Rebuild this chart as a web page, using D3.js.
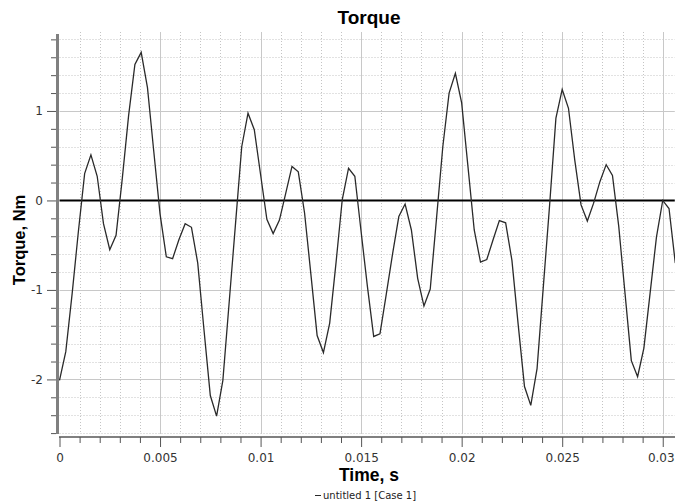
<!DOCTYPE html>
<html>
<head>
<meta charset="utf-8">
<script src="https://cdn.jsdelivr.net/npm/d3@7/dist/d3.min.js"></script>
<style>
  html, body { margin: 0; padding: 0; background: #fff; }
  svg { display: block; }
</style>
</head>
<body>
<svg id="chart" width="675" height="502"></svg>
<script>
// ---- data ----
const timeValues = [
  0, 0.0003125, 0.000625, 0.0009375, 0.00125, 0.0015625, 0.001875, 0.0021875, 0.0025, 0.0028125,
  0.003125, 0.0034375, 0.00375, 0.0040625, 0.004375, 0.0046875, 0.005, 0.0053125, 0.005625, 0.0059375,
  0.00625, 0.0065625, 0.006875, 0.0071875, 0.0075, 0.0078125, 0.008125, 0.0084375, 0.00875, 0.0090625,
  0.009375, 0.0096875, 0.01, 0.0103125, 0.010625, 0.0109375, 0.01125, 0.0115625, 0.011875, 0.0121875,
  0.0125, 0.0128125, 0.013125, 0.0134375, 0.01375, 0.0140625, 0.014375, 0.0146875, 0.015, 0.0153125,
  0.015625, 0.0159375, 0.01625, 0.0165625, 0.016875, 0.0171875, 0.0175, 0.0178125, 0.018125, 0.0184375,
  0.01875, 0.0190625, 0.019375, 0.0196875, 0.02, 0.0203125, 0.020625, 0.0209375, 0.02125, 0.0215625,
  0.021875, 0.0221875, 0.0225, 0.0228125, 0.023125, 0.0234375, 0.02375, 0.0240625, 0.024375, 0.0246875,
  0.025, 0.0253125, 0.025625, 0.0259375, 0.02625, 0.0265625, 0.026875, 0.0271875, 0.0275, 0.0278125,
  0.028125, 0.0284375, 0.02875, 0.0290625, 0.029375, 0.0296875, 0.03, 0.0303125, 0.030625
];
const torqueValues = [
  -2.01, -1.69, -1.05, -0.35, 0.30, 0.51, 0.27, -0.26, -0.55, -0.39,
  0.25, 0.95, 1.52, 1.655, 1.26, 0.55, -0.15, -0.63, -0.65, -0.44,
  -0.26, -0.30, -0.70, -1.45, -2.18, -2.41, -2.01, -1.14, -0.27, 0.60,
  0.975, 0.79, 0.29, -0.21, -0.37, -0.22, 0.08, 0.38, 0.32, -0.14,
  -0.82, -1.51, -1.70, -1.37, -0.70, 0.01, 0.36, 0.27, -0.35, -0.96,
  -1.52, -1.49, -1.05, -0.60, -0.18, -0.04, -0.33, -0.87, -1.18, -0.99,
  -0.20, 0.60, 1.20, 1.42, 1.09, 0.38, -0.33, -0.69, -0.66, -0.44,
  -0.225, -0.25, -0.67, -1.39, -2.08, -2.29, -1.88, -0.96, -0.05, 0.92,
  1.24, 1.03, 0.45, -0.05, -0.23, -0.03, 0.21, 0.40, 0.28, -0.29,
  -1.04, -1.79, -1.97, -1.65, -1.03, -0.41, 0.0, -0.09, -0.70
];
const xMajorTicks = [0, 0.005, 0.01, 0.015, 0.02, 0.025, 0.03];
const xMajorLabels = ["0", "0.005", "0.01", "0.015", "0.02", "0.025", "0.03"];
const xMinorTicks = [0.001, 0.002, 0.003, 0.004, 0.006, 0.007, 0.008, 0.009, 0.011, 0.012, 0.013, 0.014,
  0.016, 0.017, 0.018, 0.019, 0.021, 0.022, 0.023, 0.024, 0.026, 0.027, 0.028, 0.029];
const yMajorTicks = [-2, -1, 0, 1];
const yMajorLabels = ["-2", "-1", "0", "1"];
const yMinorTicks = [-2.6, -2.4, -2.2, -1.8, -1.6, -1.4, -1.2, -0.8, -0.6, -0.4, -0.2,
  0.2, 0.4, 0.6, 0.8, 1.2, 1.4, 1.6, 1.8];
const xDomain = [0, 0.0306];
const yDomain = [-2.61, 1.86];
const chartTitle = "Torque";
const xTitle = "Time, s";
const yTitle = "Torque, Nm";
const legendLabel = "untitled 1 [Case 1]";

// ---- layout ----
const svg = d3.select("#chart");
const plot = { left: 59.5, right: 674.8, top: 34, bottom: 434 };
const x = d3.scaleLinear().domain(xDomain).range([plot.left, plot.right]);
const y = d3.scaleLinear().domain(yDomain).range([plot.bottom, plot.top]);

// grid: minor dotted
const grid = svg.append("g");
grid.selectAll("line.xminor").data(xMinorTicks).enter().append("line")
  .attr("x1", d => Math.round(x(d)) + 0.5).attr("x2", d => Math.round(x(d)) + 0.5)
  .attr("y1", plot.top - 2).attr("y2", plot.bottom)
  .attr("stroke", "#c4c4c4").attr("stroke-width", 1).attr("stroke-dasharray", "1,2");
grid.selectAll("line.yminor").data(yMinorTicks).enter().append("line")
  .attr("x1", plot.left).attr("x2", plot.right)
  .attr("y1", d => Math.round(y(d)) + 0.5).attr("y2", d => Math.round(y(d)) + 0.5)
  .attr("stroke", "#c4c4c4").attr("stroke-width", 1).attr("stroke-dasharray", "1,2");
// grid: major solid
grid.selectAll("line.xmajor").data(xMajorTicks.filter(d => d > 0)).enter().append("line")
  .attr("x1", d => Math.round(x(d)) + 0.5).attr("x2", d => Math.round(x(d)) + 0.5)
  .attr("y1", plot.top - 2).attr("y2", plot.bottom)
  .attr("stroke", "#c8c8c8").attr("stroke-width", 1);
grid.selectAll("line.ymajor").data(yMajorTicks.filter(d => d !== 0)).enter().append("line")
  .attr("x1", plot.left).attr("x2", plot.right)
  .attr("y1", d => Math.round(y(d)) + 0.5).attr("y2", d => Math.round(y(d)) + 0.5)
  .attr("stroke", "#c8c8c8").attr("stroke-width", 1);

// zero line
svg.append("line")
  .attr("x1", plot.left).attr("x2", plot.right)
  .attr("y1", y(0)).attr("y2", y(0))
  .attr("stroke", "#000").attr("stroke-width", 2);

// data line
svg.append("clipPath").attr("id", "clip").append("rect")
  .attr("x", plot.left - 1).attr("y", plot.top - 4)
  .attr("width", plot.right - plot.left + 2).attr("height", plot.bottom - plot.top + 8);
const points = timeValues.map((t, i) => [t, torqueValues[i]]);
svg.append("path")
  .datum(points)
  .attr("clip-path", "url(#clip)")
  .attr("fill", "none")
  .attr("stroke", "#2a2a2a")
  .attr("stroke-width", 1.3)
  .attr("stroke-linejoin", "miter")
  .attr("d", d3.line().x(d => x(d[0])).y(d => y(d[1])));

// axes
const axisColor = "#808080";
const labelFont = "'DejaVu Sans', Verdana, sans-serif";

// left axis bar
svg.append("rect").attr("x", 56).attr("y", plot.top).attr("width", 3)
  .attr("height", plot.bottom - plot.top).attr("fill", axisColor);
const yMinorAxis = svg.append("g").attr("transform", "translate(56,0)")
  .call(d3.axisLeft(y).tickValues(yMinorTicks).tickSize(5).tickFormat(""));
const yMajorAxis = svg.append("g").attr("transform", "translate(56,0)")
  .call(d3.axisLeft(y).tickValues(yMajorTicks).tickSize(9).tickPadding(4)
    .tickFormat((d, i) => yMajorLabels[i]));

// bottom axis bar
svg.append("rect").attr("x", plot.left - 0.5).attr("y", 436).attr("width", plot.right - plot.left + 1)
  .attr("height", 2).attr("fill", axisColor);
const xMinorAxis = svg.append("g").attr("transform", "translate(0,437)")
  .call(d3.axisBottom(x).tickValues(xMinorTicks).tickSize(6).tickFormat(""));
const xMajorAxis = svg.append("g").attr("transform", "translate(0,437)")
  .call(d3.axisBottom(x).tickValues(xMajorTicks).tickSize(10).tickPadding(6)
    .tickFormat((d, i) => xMajorLabels[i]));

[yMinorAxis, yMajorAxis, xMinorAxis, xMajorAxis].forEach(g => {
  g.select(".domain").remove();
  g.selectAll(".tick line").attr("stroke", "#555").attr("stroke-width", 1);
  g.selectAll(".tick text").attr("fill", "#333").style("font-family", labelFont).style("font-size", "12px");
});
// keep the last x label inside the window
xMajorAxis.selectAll(".tick text").filter(d => d === 0.03).attr("dx", "-2");

// titles
svg.append("text").attr("x", 369).attr("y", 24).attr("text-anchor", "middle")
  .style("font-family", "'Liberation Sans', Arial, sans-serif").style("font-weight", "bold")
  .style("font-size", "19px").attr("fill", "#000").text(chartTitle);
svg.append("text").attr("x", 369).attr("y", 481).attr("text-anchor", "middle")
  .style("font-family", "'Liberation Sans', Arial, sans-serif").style("font-weight", "bold")
  .style("font-size", "17.5px").attr("fill", "#000").text(xTitle);
svg.append("text").attr("transform", "translate(25,240) rotate(-90)").attr("text-anchor", "middle")
  .style("font-family", "'Liberation Sans', Arial, sans-serif").style("font-weight", "bold")
  .style("font-size", "16.5px").attr("fill", "#000").text(yTitle);

// legend
const legend = svg.append("g");
legend.append("line").attr("x1", 315).attr("x2", 321).attr("y1", 495.5).attr("y2", 495.5)
  .attr("stroke", "#2a2a2a").attr("stroke-width", 1);
legend.append("text").attr("x", 323).attr("y", 499)
  .style("font-family", labelFont).style("font-size", "10px").attr("fill", "#222").text(legendLabel);
</script>
</body>
</html>
